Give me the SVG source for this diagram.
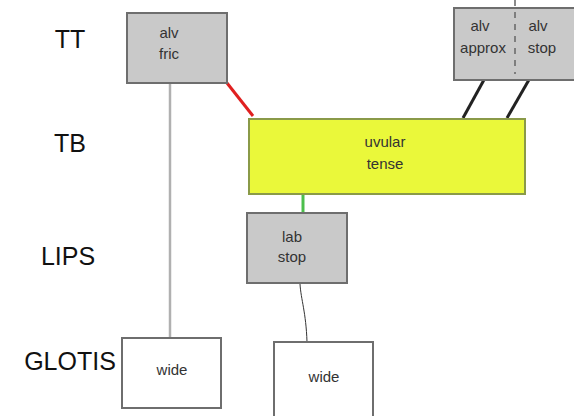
<svg xmlns="http://www.w3.org/2000/svg" width="574" height="416" viewBox="0 0 574 416">
<style>
.tier{font-family:"Liberation Sans",Arial,sans-serif;font-size:25px;fill:#111;text-anchor:middle}
.lbl{font-family:"Liberation Sans",Arial,sans-serif;font-size:15px;fill:#333;text-anchor:middle}
.gray{fill:#c9c9c9;stroke:#6e6e6e;stroke-width:2}
.white{fill:#fff;stroke:#6e6e6e;stroke-width:2}
.yellow{fill:#eaf83a;stroke:#8a9a48;stroke-width:2}
</style>
<rect width="574" height="416" fill="#fff"/>
<g id="tiers">
<text class="tier" x="70" y="48">TT</text>
<text class="tier" x="70" y="152">TB</text>
<text class="tier" x="68" y="265">LIPS</text>
<text class="tier" x="70" y="370">GLOTIS</text>
</g>
<g id="connectors" fill="none">
<line x1="170" y1="83" x2="170" y2="338" stroke="#b0b0b0" stroke-width="2.5"/>
<line x1="227" y1="83" x2="253" y2="116" stroke="#e02020" stroke-width="3"/>
<line x1="485" y1="78" x2="463" y2="118" stroke="#222" stroke-width="3"/>
<line x1="530" y1="78" x2="507" y2="118" stroke="#222" stroke-width="3"/>
<line x1="303" y1="194" x2="303" y2="213" stroke="#4cbf4c" stroke-width="3"/>
<path d="M300 284 C301 300 306 312 307 342" stroke="#333" stroke-width="1"/>
</g>
<g id="alv-fric">
<rect class="gray" x="127" y="13" width="100" height="70"/>
<text class="lbl" x="169" y="38">alv</text>
<text class="lbl" x="169" y="59">fric</text>
</g>
<g id="alv-approx-stop">
<rect class="gray" x="454" y="8" width="130" height="72"/>
<line x1="515" y1="0" x2="515" y2="74" stroke="#666" stroke-width="1.5" stroke-dasharray="6,6"/>
<text class="lbl" x="480" y="31">alv</text>
<text class="lbl" x="483" y="53">approx</text>
<text class="lbl" x="538" y="31">alv</text>
<text class="lbl" x="542" y="53">stop</text>
</g>
<g id="uvular-tense">
<rect class="yellow" x="249" y="119" width="276" height="75"/>
<text class="lbl" x="385" y="147">uvular</text>
<text class="lbl" x="385" y="169">tense</text>
</g>
<g id="lab-stop">
<rect class="gray" x="247" y="213" width="100" height="70"/>
<text class="lbl" x="292" y="242">lab</text>
<text class="lbl" x="292" y="262">stop</text>
</g>
<g id="wide1">
<rect class="white" x="122" y="338" width="99" height="70"/>
<text class="lbl" x="172" y="375">wide</text>
</g>
<g id="wide2">
<rect class="white" x="274" y="342" width="99" height="80"/>
<text class="lbl" x="324" y="382">wide</text>
</g>
</svg>
